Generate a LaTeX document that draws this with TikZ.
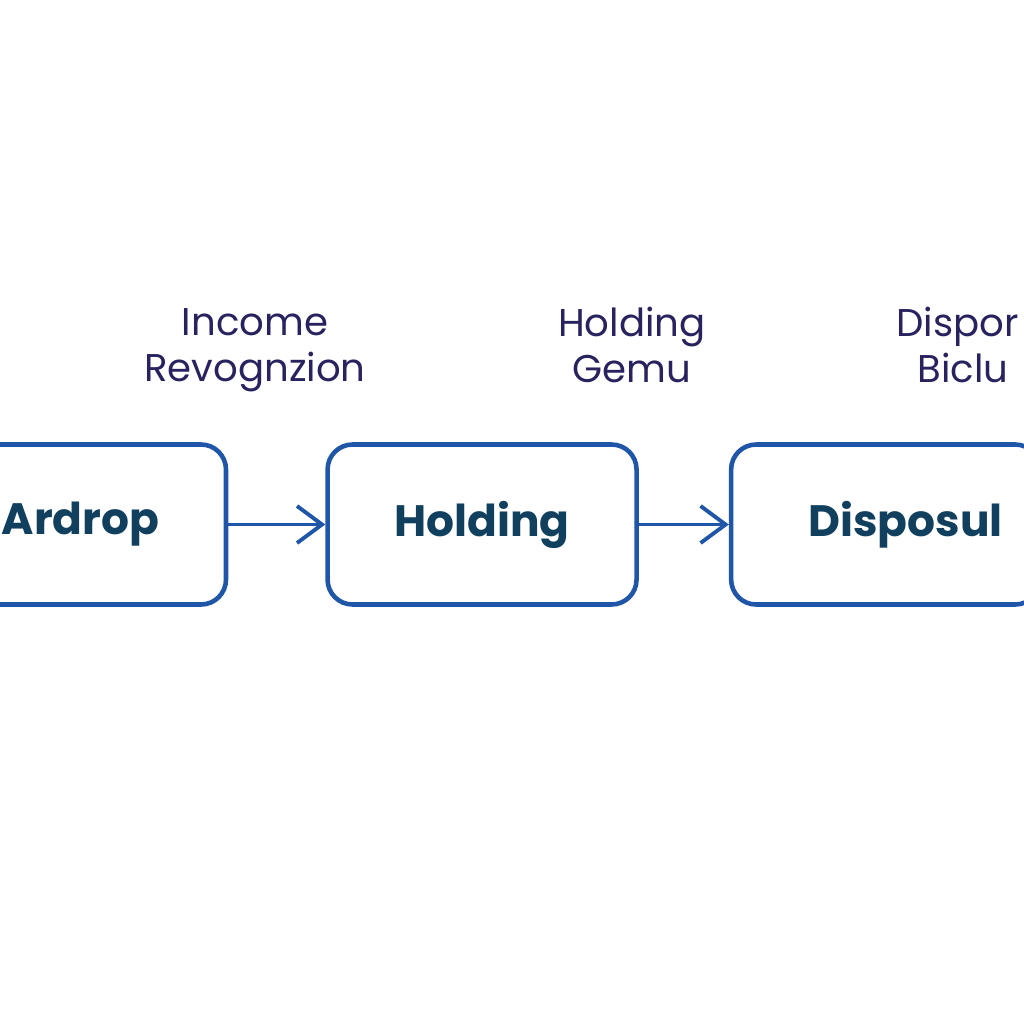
\documentclass[tikz,border=0pt]{standalone}
\usepackage{fontspec}
\setmainfont{Poppins}
\usetikzlibrary{positioning,arrows.meta}
\definecolor{boxblue}{HTML}{1F56A8}
\definecolor{boxtext}{HTML}{113F5E}
\definecolor{labeltext}{HTML}{28235E}
\begin{document}
\begin{tikzpicture}[
  stage/.style={draw=boxblue,line width=1.3pt,rounded corners=0.25cm,
    minimum width=3.09cm,minimum height=1.6cm,fill=white,
    font=\fontsize{12.5}{15}\selectfont\bfseries,text=boxtext},
  note/.style={font=\fontsize{11}{13}\selectfont,text=labeltext,align=center},
  flow/.style={draw=boxblue,line width=1.1pt,-{Straight Barb[length=0.25cm,width=0.37cm,line width=1.1pt]}}
]
\useasboundingbox (0,0) rectangle (10.24,-10.24);
\clip (0,0) rectangle (10.24,-10.24);
\node[stage] (airdrop) at (0.715,-5.245) {\hspace*{0.18cm}Ardrop};
\node[stage,right=0.97cm of airdrop] (holding) {Holding};
\node[stage,right=0.90cm of holding] (disposal) {\hspace*{0.4cm}Disposul};
\draw[flow] (airdrop) -- (holding);
\draw[flow] (holding) -- (disposal);
\node[note] (income) at (2.55,-3.50) {Income\\Revognzion};
\node[note] (gemu) at (6.32,-3.45) {Holding\\Gemu};
\node[note,align=left,anchor=west] (dispor) at (8.84,-3.45) {Dispor\\\hspace*{0.21cm}Biclu};
\end{tikzpicture}
\end{document}
